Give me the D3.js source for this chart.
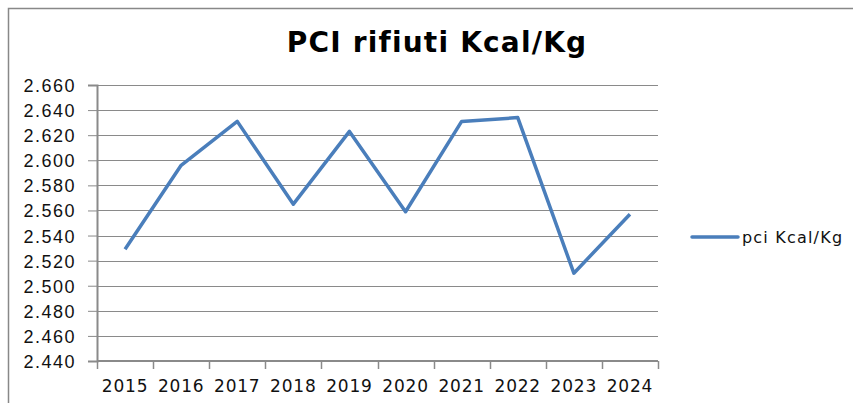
<!DOCTYPE html>
<html>
<head>
<meta charset="utf-8">
<script src="https://cdn.jsdelivr.net/npm/d3@7"></script>
<style>
  body { margin: 0; background: #fff; }
  svg { display: block; font-family: "DejaVu Sans", sans-serif; }
</style>
</head>
<body>
<div id="container"></div>
<script>
const WIDTH = 853;
const HEIGHT = 403;

const years = ["2015", "2016", "2017", "2018", "2019", "2020", "2021", "2022", "2023", "2024"];
const pciValues = [2529, 2596, 2631, 2565, 2623, 2559, 2631, 2634, 2510, 2557];
const yTicks = [2440, 2460, 2480, 2500, 2520, 2540, 2560, 2580, 2600, 2620, 2640, 2660];
const seriesName = "pci Kcal/Kg";
const title = "PCI rifiuti Kcal/Kg";

const plot = { left: 97, right: 658, top: 85, bottom: 361 };

const itFormat = d3.formatLocale({ decimal: ",", thousands: ".", grouping: [3], currency: ["€", ""] }).format(",.0f");

const svg = d3
  .select("#container")
  .append("svg")
  .attr("width", WIDTH)
  .attr("height", HEIGHT);

// outer chart border (runs off the picture on right and bottom)
svg
  .append("rect")
  .attr("x", 8.5)
  .attr("y", 8.5)
  .attr("width", WIDTH + 20)
  .attr("height", HEIGHT + 20)
  .style("fill", "none")
  .style("stroke", "#888")
  .style("stroke-width", 1.5);

svg
  .append("text")
  .attr("x", 437)
  .attr("y", 52)
  .style("text-anchor", "middle")
  .style("font-size", "28px")
  .style("font-weight", "bold")
  .style("letter-spacing", "1.2px")
  .style("fill", "#000")
  .text(title);

const xScale = d3
  .scaleBand()
  .domain(years)
  .range([plot.left, plot.right]);

const yScale = d3
  .scaleLinear()
  .domain([2440, 2660])
  .range([plot.bottom, plot.top]);

// horizontal gridlines
svg
  .append("g")
  .selectAll("line")
  .data(yTicks)
  .enter()
  .append("line")
  .attr("x1", plot.left)
  .attr("x2", plot.right)
  .attr("y1", d => Math.round(yScale(d)) + 0.5)
  .attr("y2", d => Math.round(yScale(d)) + 0.5)
  .style("stroke", "#8a8a8a")
  .style("stroke-width", 1);

// y axis
const yAxis = d3.axisLeft(yScale).tickValues(yTicks).tickFormat(itFormat).tickSize(9).tickPadding(12);
const yG = svg
  .append("g")
  .attr("transform", `translate(${plot.left},0)`)
  .call(yAxis);
yG.select(".domain").style("stroke", "#8a8a8a").style("stroke-width", 2);
yG.selectAll(".tick line").style("stroke", "#8a8a8a");
yG.selectAll(".tick text")
  .style("font-size", "18px")
  .style("letter-spacing", "1.5px")
  .style("fill", "#111")
  .attr("dy", "0.36em");

// x axis with ticks on category boundaries
const xG = svg
  .append("g")
  .attr("transform", `translate(0,${plot.bottom})`);
xG.append("line")
  .attr("x1", plot.left)
  .attr("x2", plot.right)
  .style("stroke", "#8a8a8a")
  .style("stroke-width", 2);
xG.selectAll(".xtick")
  .data(years.concat(["end"]))
  .enter()
  .append("line")
  .attr("class", "xtick")
  .attr("x1", (d, i) => Math.round(plot.left + i * xScale.bandwidth()) + 0.5)
  .attr("x2", (d, i) => Math.round(plot.left + i * xScale.bandwidth()) + 0.5)
  .attr("y1", 0)
  .attr("y2", 8)
  .style("stroke", "#8a8a8a")
  .style("stroke-width", 1.5);
xG.selectAll(".xlabel")
  .data(years)
  .enter()
  .append("text")
  .attr("class", "xlabel")
  .attr("x", d => xScale(d) + xScale.bandwidth() / 2)
  .attr("y", 31)
  .style("text-anchor", "middle")
  .style("font-size", "17px")
  .style("letter-spacing", "0.8px")
  .style("fill", "#111")
  .text(d => d);

// series line
const line = d3
  .line()
  .x((d, i) => xScale(years[i]) + xScale.bandwidth() / 2)
  .y(d => yScale(d));

svg
  .append("path")
  .datum(pciValues)
  .attr("d", line)
  .style("fill", "none")
  .style("stroke", "#4a7ebb")
  .style("stroke-width", 3.5)
  .style("stroke-linejoin", "round");

// legend
const legend = svg.append("g").attr("class", "legend");
legend
  .append("line")
  .attr("x1", 692)
  .attr("x2", 738)
  .attr("y1", 237)
  .attr("y2", 237)
  .style("stroke", "#4a7ebb")
  .style("stroke-width", 3.5)
  .style("stroke-linecap", "round");
legend
  .append("text")
  .attr("x", 742)
  .attr("y", 243)
  .style("font-size", "16px")
  .style("letter-spacing", "1.2px")
  .style("fill", "#111")
  .text(seriesName);
</script>
</body>
</html>
